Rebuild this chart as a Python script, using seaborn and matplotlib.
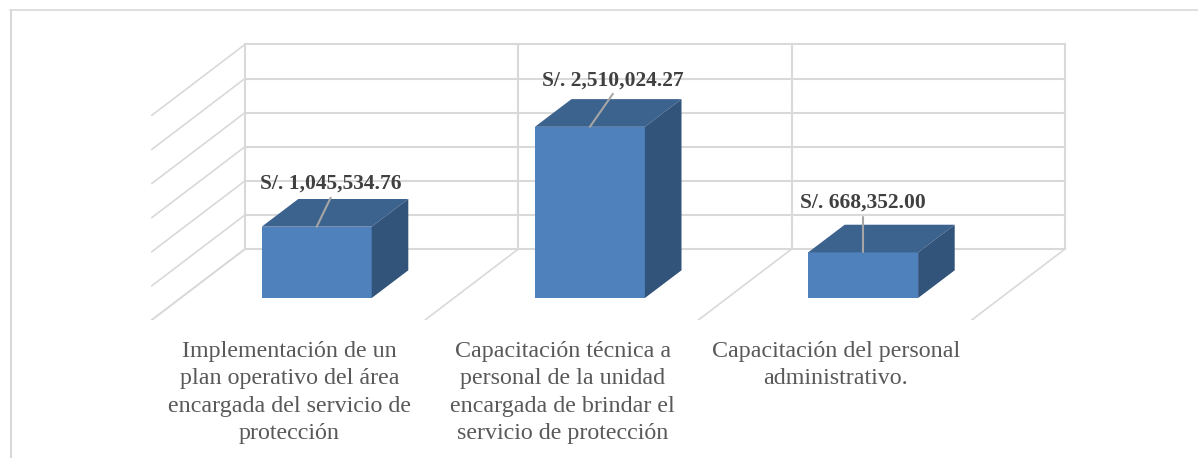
import numpy as np
import pandas as pd
import seaborn as sns
import matplotlib.pyplot as plt
from matplotlib.lines import Line2D
from matplotlib.patches import Polygon

# datos del grafico
categorias = [
    "Implementación de un\nplan operativo del área\nencargada del servicio de\nprotección",
    "Capacitación técnica a\npersonal de la unidad\nencargada de brindar el\nservicio de protección",
    "Capacitación del personal\nadministrativo.",
]
montos = [1045534.76, 2510024.27, 668352.00]
etiquetas = ["S/. 1,045,534.76", "S/. 2,510,024.27", "S/. 668,352.00"]
grid_vals = [0, 500000, 1000000, 1500000, 2000000, 2500000, 3000000]

W, H = 1198, 458
PX_CAT = 273.2  # px por categoria
PX_VAL = 34.1 / 500000  # px por sol
X0, Y0 = 316.7, 298  # centro de la 1ra barra y base frontal, en px
FLOOR_Y = 320  # borde frontal del piso, en px


def dx(px):
    return px / PX_CAT


def dy(px):
    return px / PX_VAL


sns.set_theme(style="white")
plt.rcParams["font.family"] = ["Liberation Serif", "DejaVu Serif"]

df = pd.DataFrame({"categoria": categorias, "monto": montos})

fig = plt.figure(figsize=(W / 100, H / 100), dpi=100)
ax = fig.add_axes([0, (H - FLOOR_Y) / H, 1, FLOOR_Y / H])

sns.barplot(data=df, x="categoria", y="monto", color="#4F81BD", saturation=1,
            width=110 / PX_CAT, linewidth=0, zorder=3, ax=ax)

ax.set_xlim(dx(-X0), dx(W - X0))
ax.set_ylim(dy(Y0 - FLOOR_Y), dy(Y0))
sns.despine(ax=ax, left=True, bottom=True)
ax.set_xlabel("")
ax.set_ylabel("")
ax.set_yticks([])

# pared del fondo y piso
gris = "#D9D9D9"
pared_izq = dx(245 - X0)
pared_der = dx(1065 - X0)
pared_base = dy(Y0 - 249)
piso_dx = dx(-93.3)
piso_dy = dy(-71)
for v in grid_vals:
    y = pared_base + v
    ax.plot([pared_izq, pared_der], [y, y], color=gris, lw=1.5, zorder=1, solid_capstyle="projecting")
    ax.plot([pared_izq, pared_izq + piso_dx], [y, y + piso_dy], color=gris, lw=1.2, zorder=1)
for i in range(4):
    x = pared_izq + i * (pared_der - pared_izq) / 3
    tope = pared_base + grid_vals[-1]
    ax.plot([x, x], [pared_base, tope], color=gris, lw=1.5, zorder=1)
    ax.plot([x, x + piso_dx], [pared_base, pared_base + piso_dy], color=gris, lw=1.2, zorder=1)

# caras superior y lateral de cada barra
prof_x = dx(36.6)
prof_y = dy(27.7)
for bar in ax.patches[:len(montos)]:
    x1 = bar.get_x()
    x2 = x1 + bar.get_width()
    h = bar.get_height()
    ax.add_patch(Polygon([(x1, h), (x2, h), (x2 + prof_x, h + prof_y), (x1 + prof_x, h + prof_y)],
                         closed=True, fc="#3C628E", ec="none", zorder=3))
    ax.add_patch(Polygon([(x2, 0), (x2 + prof_x, prof_y), (x2 + prof_x, h + prof_y), (x2, h)],
                         closed=True, fc="#32537A", ec="none", zorder=3))

# etiquetas de datos con su linea guia
guia_dx = [14, 23, 0]
guia_dy = [29, 33, 35]
texto_dy = [43, 46, 50]
for i, bar in enumerate(ax.patches[:len(montos)]):
    xc = bar.get_x() + bar.get_width() / 2
    h = bar.get_height()
    ax.plot([xc, xc + dx(guia_dx[i])], [h, h + dy(guia_dy[i])], color="#A6A6A6", lw=1.5, zorder=4)
    ax.text(xc + dx(guia_dx[i]), h + dy(texto_dy[i]), etiquetas[i], ha="center", va="center",
            fontsize=15.5, fontweight="bold", color="#404040", zorder=5)

# etiquetas de categoria
ax.set_xticks(np.arange(len(categorias)) - 0.1, labels=categorias)
ax.tick_params(axis="x", length=0, pad=15, labelsize=17.3, labelcolor="#595959")
for t in ax.get_xticklabels():
    t.set_linespacing(1.4)

# borde del area del grafico
fig.add_artist(Line2D([10 / W, 1], [1 - 9.5 / H, 1 - 9.5 / H], color=gris, lw=1.2))
fig.add_artist(Line2D([10.5 / W, 10.5 / W], [0, 1 - 9.5 / H], color=gris, lw=1.5))

fig.savefig("out.png", dpi=100)
